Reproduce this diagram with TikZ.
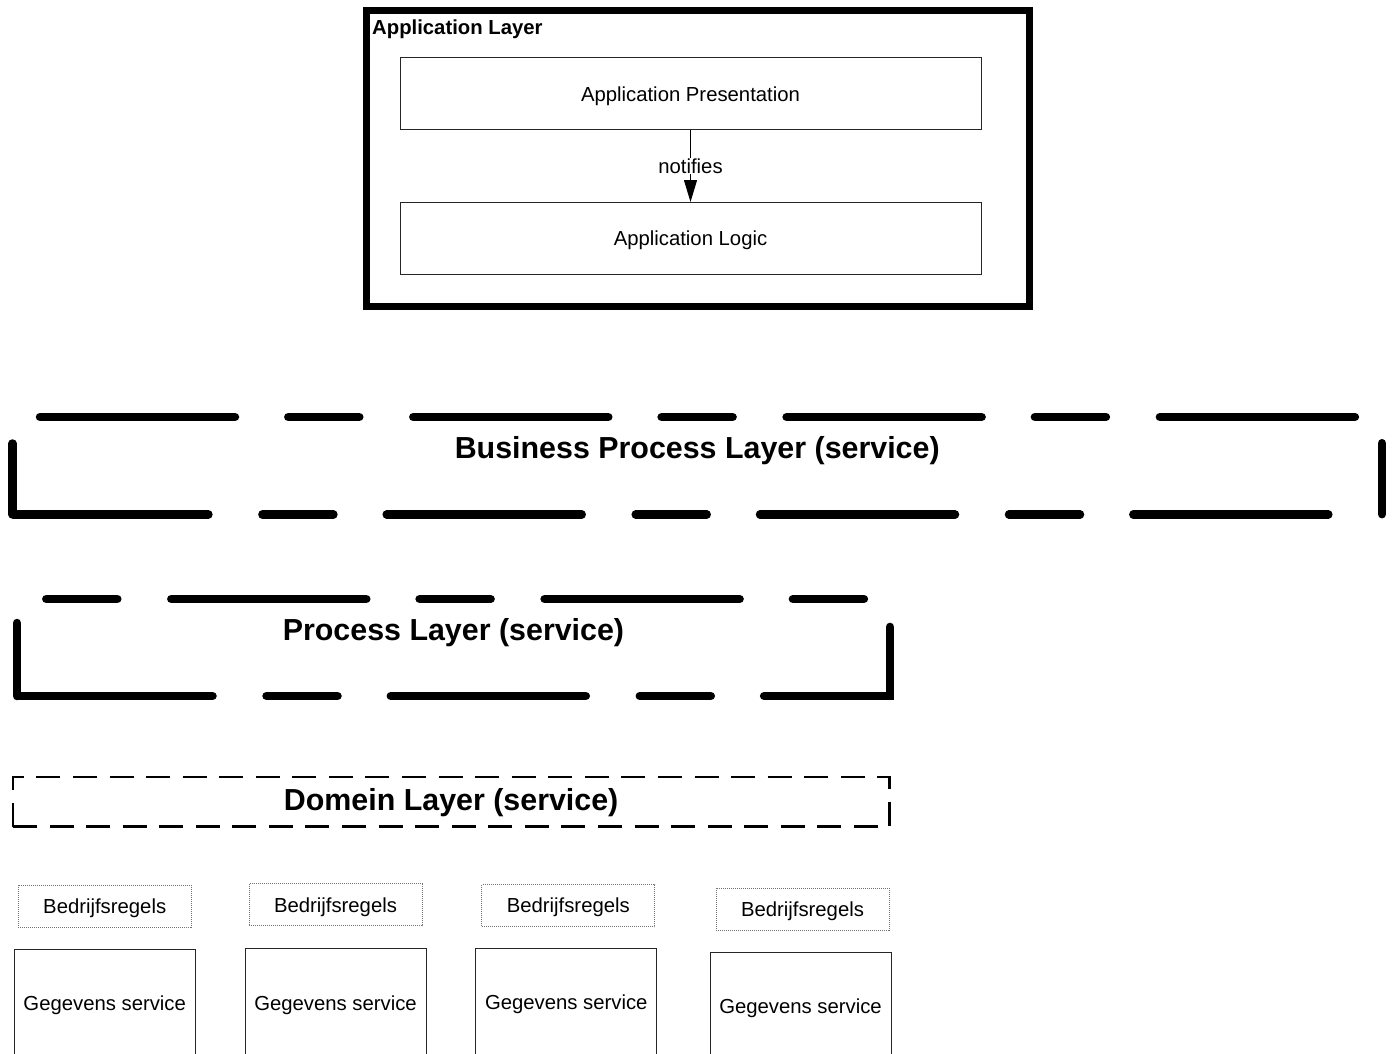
\documentclass[tikz,border=0pt]{standalone}
\usepackage{fontspec}
\setmainfont{Liberation Sans}
\usetikzlibrary{positioning,arrows.meta}

\begin{document}
\begin{tikzpicture}
[
x=1pt, y=-1pt,
frame-a/.style={draw, line width=7pt, inner sep=0pt, outer sep=0pt},
frame-b/.style={inner sep=0pt, outer sep=0pt},
box-a/.style={draw=black!85, line width=1pt, inner sep=0pt, outer sep=0pt, text depth=0pt, minimum width=581pt, minimum height=72pt, font=\fontsize{20.3pt}{24pt}\selectfont},
rule-a/.style={draw=black!55, line width=1pt, dash pattern=on 1pt off 1pt, inner sep=0pt, outer sep=0pt, text depth=0pt, minimum width=173pt, minimum height=42pt, font=\fontsize{20.3pt}{24pt}\selectfont},
data-a/.style={draw=black!85, line width=1pt, inner sep=0pt, outer sep=0pt, text depth=0pt, minimum width=181pt, minimum height=108pt, font=\fontsize{20.3pt}{24pt}\selectfont},
text-a/.style={font=\fontsize{20.3pt}{24pt}\selectfont},
text-t/.style={font=\bfseries\fontsize{20.3pt}{24pt}\selectfont, inner sep=0pt},
text-b/.style={font=\bfseries\fontsize{30.4pt}{36pt}\selectfont, inner sep=0pt},
dash-a/.style={line width=8.5pt, line cap=round, dash pattern=on 71pt off 54pt on 195pt off 53.3pt},
dash-b/.style={line width=2.8pt, dash pattern=on 24pt off 12.56pt}
]
\useasboundingbox (0,0) rectangle (1392,1054);

% application layer
\node (app)       [frame-a, minimum width=663pt, minimum height=295pt] at (697.5,158.5) {};
\node (app-title) [text-t, anchor=base west] at ([xshift=6pt, yshift=-24pt]app.north west) {Application Layer};
\node (pres)      [box-a] at (690.5,94) {Application Presentation};
\node (logic)     [box-a, below = 72pt of pres] {Application Logic};
\draw [line width=1pt, -{Triangle[length=22pt, width=13pt]}] (pres) -- node [text-a, fill=white, inner sep=1pt] {notifies} (logic);

% layers
\node (bpl)       [frame-b, minimum width=1369.5pt, minimum height=97.5pt] at (697.25,465.75) {};
\draw [dash-a] (bpl.south west) -- (bpl.north west) -- (bpl.north east) -- (bpl.south east) -- cycle;
\node (bpl-text)  [text-b, anchor=base] at ([yshift=-41pt]bpl.north) {Business Process Layer (service)};

\node (pl)        [frame-b, minimum width=873pt, minimum height=97pt] at (453.5,647.5) {};
\draw [dash-a, dash phase=247pt] (pl.south west) -- (pl.north west) -- (pl.north east) -- (pl.south east) -- cycle;
\node (pl-text)   [text-b, anchor=base] at ([yshift=-41pt]pl.north) {Process Layer (service)};

\node (dl)        [frame-b, minimum width=876.3pt, minimum height=49.7pt] at (451.15,801.85) {};
\draw [dash-b] (dl.south west) -- (dl.north west) -- (dl.north east) -- (dl.south east) -- cycle;
\node (dl-text)   [text-b, anchor=base] at ([yshift=-33pt]dl.north) {Domein Layer (service)};

% services
\node (rule-1) [rule-a] at (104.7,906)   {Bedrijfsregels};
\node (rule-2) [rule-a] at (335.5,904.7) {Bedrijfsregels};
\node (rule-3) [rule-a] at (568.3,905.5) {Bedrijfsregels};
\node (rule-4) [rule-a] at (802.5,909)   {Bedrijfsregels};
\node (data-1) [data-a, below = 22pt of rule-1]               {Gegevens service};
\node (data-2) [data-a, below = 23pt of rule-2]               {Gegevens service};
\node (data-3) [data-a, below = 22pt of rule-3, xshift=-2pt]  {Gegevens service};
\node (data-4) [data-a, below = 22pt of rule-4, xshift=-2pt]  {Gegevens service};
\end{tikzpicture}
\end{document}
